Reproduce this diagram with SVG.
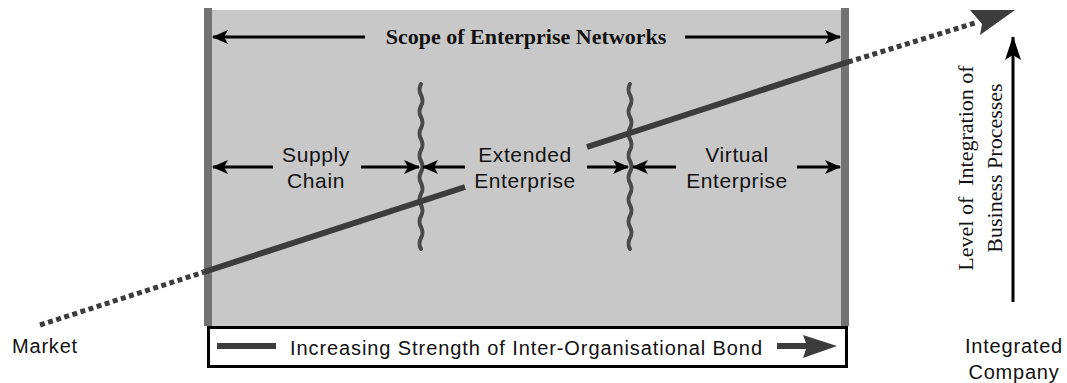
<svg xmlns="http://www.w3.org/2000/svg" width="1067" height="383" viewBox="0 0 1067 383">
<defs>
<style>
.sans{font-family:"Liberation Sans",Arial,sans-serif;fill:#111;}
.serif{font-family:"Liberation Serif","Times New Roman",serif;fill:#111;}
.lbl{font-size:21px;letter-spacing:0.6px;text-anchor:middle;}
.arr{stroke:#000;stroke-width:3;fill:none;}
.wave{stroke:#4a4a4a;stroke-width:4;fill:none;stroke-linecap:round;}
.thick{stroke:#3c3c3c;stroke-width:6;fill:none;}
</style>
<marker id="ah" viewBox="0 0 16 14" refX="15" refY="7" markerWidth="16" markerHeight="14" markerUnits="userSpaceOnUse" orient="auto-start-reverse">
<path d="M0,0 L16,7 L0,14 L4,7 Z" fill="#000"/>
</marker>
<marker id="ahv" viewBox="0 0 24 18" refX="23" refY="9" markerWidth="24" markerHeight="18" markerUnits="userSpaceOnUse" orient="auto">
<path d="M0,1 L24,9 L0,17 L5,9 Z" fill="#000"/>
</marker>
</defs>
<g id="scope-panel">
<rect x="212" y="10" width="629" height="316" fill="#c8c8c8"/>
<rect x="204" y="8" width="8" height="318" fill="#737373"/>
<rect x="841" y="8" width="8" height="318" fill="#737373"/>
</g>
<g id="boundaries">
<path class="wave" d="M421,84 q-3,5.5 0,11 t0,11 t0,11 t0,11 t0,11 t0,11 t0,11 t0,11 t0,11 t0,11 t0,11 t0,11 t0,11 t0,11 t0,11"/>
<path class="wave" d="M630,84 q-3,5.5 0,11 t0,11 t0,11 t0,11 t0,11 t0,11 t0,11 t0,11 t0,11 t0,11 t0,11 t0,11 t0,11 t0,11 t0,11"/>
</g>
<g id="connectors">
<line class="arr" x1="365" y1="37" x2="213" y2="37" marker-end="url(#ah)"/>
<line class="arr" x1="685" y1="37" x2="840" y2="37" marker-end="url(#ah)"/>
<line class="arr" x1="273" y1="167" x2="213" y2="167" marker-end="url(#ah)"/>
<line class="arr" x1="361" y1="167" x2="419" y2="167" marker-end="url(#ah)"/>
<line class="arr" x1="465" y1="167" x2="423" y2="167" marker-end="url(#ah)"/>
<line class="arr" x1="587" y1="167" x2="628" y2="167" marker-end="url(#ah)"/>
<line class="arr" x1="676" y1="167" x2="633" y2="167" marker-end="url(#ah)"/>
<line class="arr" x1="797" y1="167" x2="840" y2="167" marker-end="url(#ah)"/>
<line class="arr" x1="1013" y1="302" x2="1013" y2="37" marker-end="url(#ahv)"/>
</g>
<g id="integration-path">
<line x1="40" y1="325" x2="204" y2="272" stroke="#3c3c3c" stroke-width="5" stroke-dasharray="5 3.5"/>
<line class="thick" x1="204" y1="272" x2="465" y2="187"/>
<line class="thick" x1="587" y1="147" x2="848" y2="62"/>
<line x1="848" y1="62" x2="978" y2="22" stroke="#3c3c3c" stroke-width="5" stroke-dasharray="5 3.5"/>
<polygon points="970,10 1015,10 980,35 982,24" fill="#3c3c3c"/>
</g>
<g id="labels">
<text class="serif" x="526" y="44" font-size="22" font-weight="bold" text-anchor="middle">Scope of Enterprise Networks</text>
<text class="sans lbl" x="316" y="162">Supply</text>
<text class="sans lbl" x="316" y="188">Chain</text>
<text class="sans lbl" x="525" y="162">Extended</text>
<text class="sans lbl" x="525" y="188">Enterprise</text>
<text class="sans lbl" x="737" y="162">Virtual</text>
<text class="sans lbl" x="737" y="188">Enterprise</text>
<text class="serif" font-size="22" text-anchor="middle" xml:space="preserve" style="white-space:pre" transform="translate(973,168) rotate(-90)">Level of  Integration of</text>
<text class="serif" font-size="22" text-anchor="middle" transform="translate(1002,168) rotate(-90)">Business Processes</text>
<text class="sans" x="12" y="353" font-size="20" letter-spacing="0.8">Market</text>
<text class="sans" x="1014" y="353" font-size="20" letter-spacing="0.8" text-anchor="middle">Integrated</text>
<text class="sans" x="1014" y="379" font-size="20" letter-spacing="0.8" text-anchor="middle">Company</text>
</g>
<g id="legend">
<rect x="208.5" y="327.5" width="638" height="39" fill="#fff" stroke="#000" stroke-width="3"/>
<line x1="217" y1="346" x2="276" y2="346" stroke="#3c3c3c" stroke-width="6"/>
<text class="sans" x="290" y="355" font-size="20" textLength="472" lengthAdjust="spacing">Increasing Strength of Inter-Organisational Bond</text>
<line x1="777" y1="346" x2="808" y2="346" stroke="#3c3c3c" stroke-width="6"/>
<polygon points="803,335 837,346 803,358 807,346" fill="#3c3c3c"/>
</g>
</svg>
